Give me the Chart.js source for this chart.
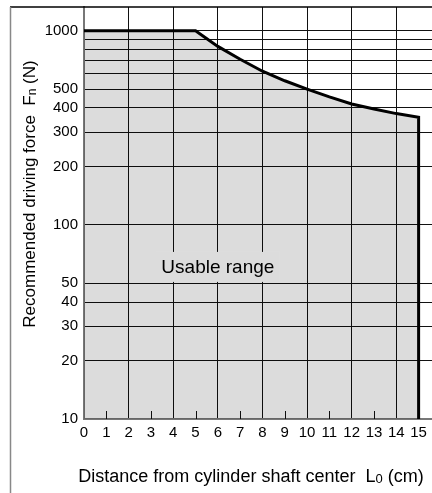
<!DOCTYPE html>
<html>
<head>
<meta charset="utf-8">
<script src="https://cdn.jsdelivr.net/npm/chart.js@4.4.1/dist/chart.umd.min.js"></script>
<style>
    html, body { margin: 0; padding: 0; background: #fff; }
    canvas { display: block; }
</style>
</head>
<body>
<canvas id="chart" width="432" height="493"></canvas>
<script>
(function () {
    'use strict';

    // ── Data ──────────────────────────────────────────────────────────────────
    var distance = [0, 1, 2, 3, 4, 5, 6, 7, 8, 9, 10, 11, 12, 13, 14, 15, 15];
    var force    = [1000, 1000, 1000, 1000, 1000, 1000, 830, 712, 618, 552, 500, 456, 419, 395, 374, 358, 10];

    var xTicks      = [0, 1, 2, 3, 4, 5, 6, 7, 8, 9, 10, 11, 12, 13, 14, 15];
    var xGridLines  = [2, 4, 6, 8, 10, 12, 14];
    var xMinorTicks = [1, 3, 5, 7, 9, 11, 13];
    var yTicks      = [10, 20, 30, 40, 50, 100, 200, 300, 400, 500, 600, 700, 800, 900, 1000];
    var yLabelled   = [10, 20, 30, 40, 50, 100, 200, 300, 400, 500, 1000];

    var areaLabel = 'Usable range';
    var areaLabelAt = { x: 6, y: 60 };

    var FONT = "'Liberation Sans', Arial, sans-serif";

    // ── Helpers ───────────────────────────────────────────────────────────────
    function drawRuns(ctx, runs) {
        // runs: [{t, size, dy}] drawn left to right, centred on the origin
        var total = 0;
        runs.forEach(function (r) {
            ctx.font = r.size + 'px ' + FONT;
            r.w = ctx.measureText(r.t).width;
            total += r.w;
        });
        var cx = -total / 2;
        runs.forEach(function (r) {
            ctx.font = r.size + 'px ' + FONT;
            ctx.fillText(r.t, cx, r.dy || 0);
            cx += r.w;
        });
    }

    // ── Extras drawn on top of the chart ──────────────────────────────────────
    var decor = {
        id: 'decor',
        beforeDatasetsDraw: function (chart) {
            var ctx = chart.ctx, a = chart.chartArea, xs = chart.scales.x;
            ctx.save();
            ctx.strokeStyle = '#111';
            ctx.lineWidth = 1;
            xMinorTicks.forEach(function (v) {
                var px = Math.round(xs.getPixelForValue(v)) + 0.5;
                ctx.beginPath();
                ctx.moveTo(px, a.bottom);
                ctx.lineTo(px, a.bottom - 8);
                ctx.stroke();
            });
            ctx.restore();
        },
        afterDatasetsDraw: function (chart) {
            var ctx = chart.ctx, a = chart.chartArea;
            var xs = chart.scales.x, ys = chart.scales.y;
            ctx.save();

            // label inside the shaded region, clearing the grid behind it
            var lx = xs.getPixelForValue(areaLabelAt.x);
            var ly = ys.getPixelForValue(areaLabelAt.y);
            ctx.font = '19px ' + FONT;
            var w = ctx.measureText(areaLabel).width;
            ctx.fillStyle = '#dcdcdc';
            ctx.fillRect(lx - w / 2 - 5, ly - 16, w + 10, 30);
            ctx.fillStyle = '#000';
            ctx.textAlign = 'center';
            ctx.textBaseline = 'middle';
            ctx.fillText(areaLabel, lx, ly);

            // outer frame
            ctx.strokeStyle = '#000';
            ctx.lineWidth = 1.5;
            ctx.beginPath();
            ctx.moveTo(10, a.top);
            ctx.lineTo(chart.width, a.top);
            ctx.stroke();
            ctx.strokeStyle = '#888';
            ctx.lineWidth = 1.5;
            ctx.beginPath();
            ctx.moveTo(10.5, a.top);
            ctx.lineTo(10.5, chart.height);
            ctx.stroke();

            // axis titles (with subscripts)
            ctx.fillStyle = '#000';
            ctx.textAlign = 'left';
            ctx.textBaseline = 'alphabetic';

            ctx.save();
            ctx.translate(35, 194);
            ctx.rotate(-Math.PI / 2);
            drawRuns(ctx, [
                { t: 'Recommended driving force  F', size: 17 },
                { t: 'n', size: 12, dy: 1 },
                { t: ' (N)', size: 17 }
            ]);
            ctx.restore();

            ctx.save();
            ctx.translate(251, 482);
            drawRuns(ctx, [
                { t: 'Distance from cylinder shaft center  L', size: 18 },
                { t: '0', size: 13, dy: 1 },
                { t: ' (cm)', size: 18 }
            ]);
            ctx.restore();

            ctx.restore();
        }
    };

    // ── Chart ─────────────────────────────────────────────────────────────────
    var points = distance.map(function (d, i) { return { x: d, y: force[i] }; });

    new Chart(document.getElementById('chart').getContext('2d'), {
        type: 'line',
        data: {
            datasets: [{
                data: points,
                borderColor: '#000',
                borderWidth: 3,
                borderJoinStyle: 'miter',
                backgroundColor: 'rgba(0,0,0,0.137)',
                fill: 'start',
                pointRadius: 0,
                tension: 0,
            }],
        },
        options: {
            responsive: false,
            animation: false,
            layout: { padding: { top: 7, left: 0, right: 0, bottom: 0 } },
            plugins: {
                legend: { display: false },
                tooltip: { enabled: false },
            },
            scales: {
                x: {
                    type: 'linear',
                    min: 0,
                    max: 15.6,
                    afterBuildTicks: function (s) {
                        s.ticks = xTicks.map(function (v) { return { value: v }; });
                    },
                    afterFit: function (s) {
                        s.height = 74;
                        s.paddingLeft = 0;
                        s.paddingRight = 0;
                    },
                    ticks: {
                        color: '#000',
                        padding: 5,
                        maxRotation: 0,
                        autoSkip: false,
                        font: { family: FONT, size: 15 },
                    },
                    grid: {
                        drawTicks: false,
                        lineWidth: 1,
                        color: function (c) {
                            return c.tick && xGridLines.indexOf(c.tick.value) >= 0 ? '#111' : 'rgba(0,0,0,0)';
                        },
                    },
                    border: { display: true, color: '#777', width: 2 },
                },
                y: {
                    type: 'logarithmic',
                    min: 10,
                    max: 1324,
                    afterBuildTicks: function (s) {
                        s.ticks = yTicks.map(function (v) { return { value: v }; });
                    },
                    afterFit: function (s) {
                        s.width = 84;
                        s.paddingTop = 0;
                        s.paddingBottom = 0;
                    },
                    ticks: {
                        color: '#000',
                        padding: 6,
                        autoSkip: false,
                        font: { family: FONT, size: 15 },
                        callback: function (v) {
                            return yLabelled.indexOf(v) >= 0 ? String(v) : '';
                        },
                    },
                    grid: {
                        drawTicks: false,
                        lineWidth: 1,
                        color: function (c) {
                            return c.tick && c.tick.value > 10 ? '#111' : 'rgba(0,0,0,0)';
                        },
                    },
                    border: { display: true, color: '#777', width: 2 },
                },
            },
        },
        plugins: [decor],
    });
})();
</script>
</body>
</html>
